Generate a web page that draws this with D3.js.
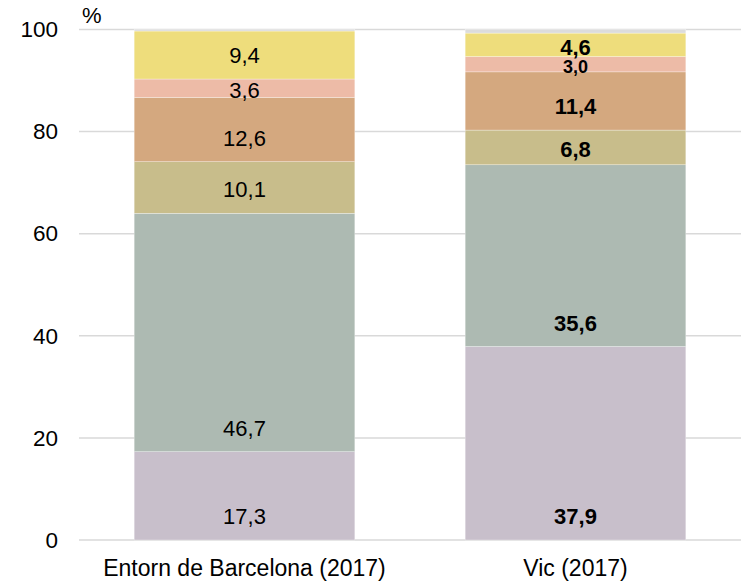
<!DOCTYPE html>
<html>
<head>
<meta charset="utf-8">
<script src="https://cdn.jsdelivr.net/npm/d3@7"></script>
<style>
  body { margin: 0; background: #fff; }
  text { font-family: "Liberation Sans", Arial, sans-serif; fill: #000; }
</style>
</head>
<body>
<svg id="chart" width="742" height="583"></svg>
<script>
// categories (bars) and series, bottom to top
const categories = ['Entorn de Barcelona (2017)', 'Vic (2017)'];
const seriesKeys = ['s1', 's2', 's3', 's4', 's5', 's6', 'rest'];
const seriesColors = ['#c8bfcb', '#adbab2', '#c8bd8b', '#d4a87f', '#edbba7', '#eedd7c', '#dcdcdc'];
const entornValues = [17.3, 46.7, 10.1, 12.6, 3.6, 9.4, 0.3];
const vicValues = [37.9, 35.6, 6.8, 11.4, 3.0, 4.6, 0.7];
const yTicks = [0, 20, 40, 60, 80, 100];
const boldCategory = 'Vic (2017)';

const rows = categories.map((c, i) => {
  const vals = i === 0 ? entornValues : vicValues;
  const row = { cat: c };
  seriesKeys.forEach((k, j) => row[k] = vals[j]);
  return row;
});

const svg = d3.select('#chart');
const plot = { left: 79, right: 741, top: 29.5, bottom: 540 };

const x = d3.scaleBand().domain(categories).range([plot.left, plot.right]).paddingInner(1 / 3).paddingOuter(1 / 6);
const y = d3.scaleLinear().domain([0, 100]).range([plot.bottom, plot.top]);

// grid
svg.append('g').selectAll('line').data(yTicks).join('line')
  .attr('x1', plot.left).attr('x2', plot.right)
  .attr('y1', d => y(d)).attr('y2', d => y(d))
  .attr('stroke', '#d9d9d9').attr('stroke-width', 1.5);

// y axis labels
const yAxis = svg.append('g').attr('transform', `translate(${plot.left},0)`)
  .call(d3.axisLeft(y).tickValues(yTicks).tickSize(0).tickPadding(21));
yAxis.select('.domain').remove();
yAxis.selectAll('text').style('font-size', '22.5px').style('font-family', '"Liberation Sans", Arial, sans-serif').attr('fill', '#000');

svg.append('text').attr('x', 82).attr('y', 23).style('font-size', '22px').text('%');

const stacked = d3.stack().keys(seriesKeys)(rows);

const layers = svg.append('g').selectAll('g').data(stacked).join('g')
  .attr('fill', (d, i) => seriesColors[i]);

layers.selectAll('rect').data(d => d).join('rect')
  .attr('x', d => x(d.data.cat))
  .attr('width', x.bandwidth())
  .attr('y', d => y(d[1]))
  .attr('height', d => y(d[0]) - y(d[1]))
  .attr('stroke', '#fff').attr('stroke-width', 0.5).attr('stroke-opacity', 0.6);

// value labels (inside base, centred when the segment is small)
const labels = [];
stacked.forEach(layer => {
  if (layer.key === 'rest') return;
  layer.forEach(d => {
    const y0 = y(d[0]), y1 = y(d[1]);
    const h = y0 - y1;
    const v = d[1] - d[0];
    labels.push({
      cat: d.data.cat,
      text: d3.format('.1f')(v).replace('.', ','),
      ly: h > 40 ? y0 - 23.5 : (y0 + y1) / 2 + 2,
      small: h < 20
    });
  });
});

svg.append('g').selectAll('text').data(labels).join('text')
  .attr('x', d => x(d.cat) + x.bandwidth() / 2)
  .attr('y', d => d.ly)
  .attr('dy', '0.35em')
  .attr('text-anchor', 'middle')
  .style('font-size', d => d.small && d.cat === boldCategory ? '18px' : '22px')
  .style('font-weight', d => d.cat === boldCategory ? 'bold' : 'normal')
  .text(d => d.text);

// category labels
svg.append('g').selectAll('text').data(categories).join('text')
  .attr('x', d => x(d) + x.bandwidth() / 2)
  .attr('y', 576)
  .attr('text-anchor', 'middle')
  .style('font-size', '23px')
  .text(d => d);
</script>
</body>
</html>
